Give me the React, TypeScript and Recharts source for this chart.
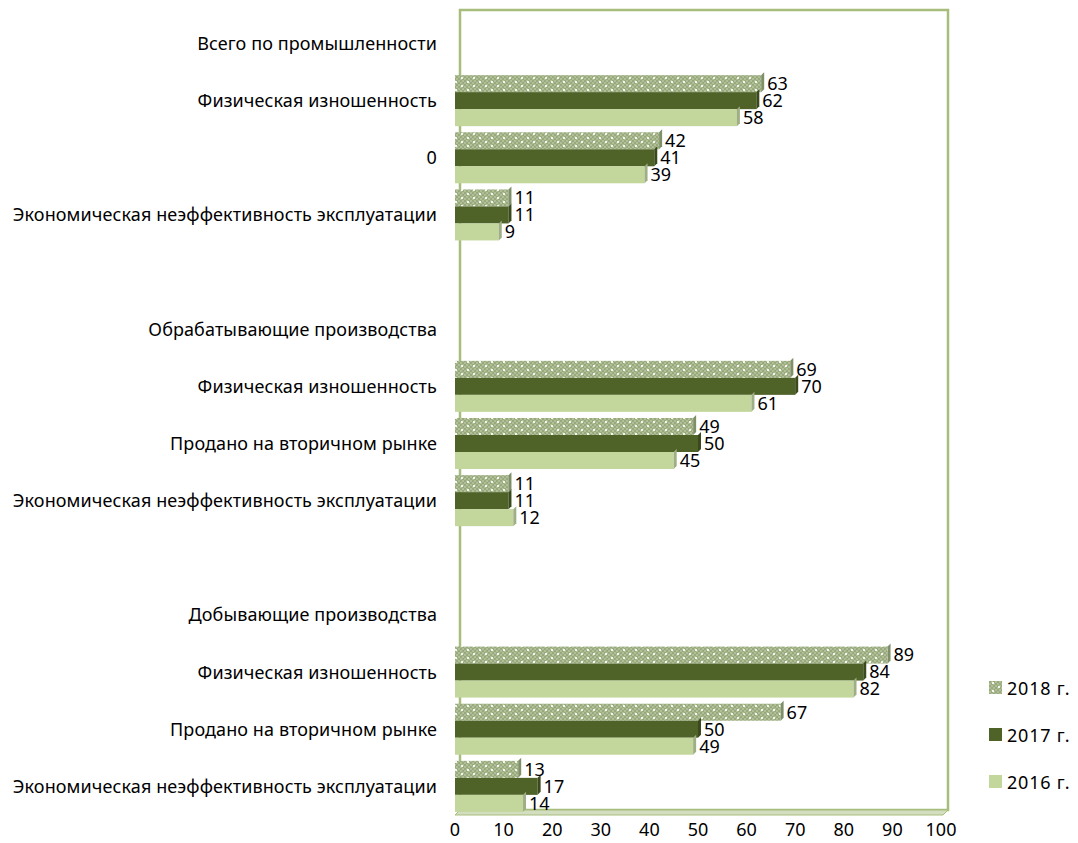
import React from "react";
import {
  BarChart,
  Bar,
  XAxis,
  YAxis,
  LabelList,
  ReferenceArea,
} from "recharts";

const categories = [
  "Всего по промышленности",
  "Физическая изношенность",
  "0",
  "Экономическая неэффективность эксплуатации",
  "",
  "Обрабатывающие производства",
  "Физическая изношенность",
  "Продано на вторичном рынке",
  "Экономическая неэффективность эксплуатации",
  "",
  "Добывающие производства",
  "Физическая изношенность",
  "Продано на вторичном рынке",
  "Экономическая неэффективность эксплуатации",
];

const values2018 = [null, 63, 42, 11, null, null, 69, 49, 11, null, null, 89, 67, 13];
const values2017 = [null, 62, 41, 11, null, null, 70, 50, 11, null, null, 84, 50, 17];
const values2016 = [null, 58, 39, 9, null, null, 61, 45, 12, null, null, 82, 49, 14];

const seriesNames = ["2018 г.", "2017 г.", "2016 г."];
const xTicks = [0, 10, 20, 30, 40, 50, 60, 70, 80, 90, 100];

const FONT = "'Noto Sans', sans-serif";
const DARK = "#4f6228";
const LIGHT = "#c3d69b";
const FRAME = "#a7bd7b";

const data = categories.map((name, i) => ({
  name,
  y2018: values2018[i],
  y2017: values2017[i],
  y2016: values2016[i],
}));

// checkered pattern with white dots, used for 2018
const PatternDefs = ({ id }: { id: string }) => (
  <defs>
    <pattern id={id} width="12" height="8" patternUnits="userSpaceOnUse">
      <rect width="12" height="8" fill="#b0bf98" />
      <rect x="0" y="0" width="2" height="2" fill="#98aa7c" />
      <rect x="4" y="0" width="2" height="2" fill="#98aa7c" />
      <rect x="8" y="0" width="2" height="2" fill="#98aa7c" />
      <rect x="2" y="2" width="2" height="2" fill="#98aa7c" />
      <rect x="6" y="2" width="2" height="2" fill="#98aa7c" />
      <rect x="10" y="2" width="2" height="2" fill="#98aa7c" />
      <rect x="0" y="4" width="2" height="2" fill="#98aa7c" />
      <rect x="4" y="4" width="2" height="2" fill="#98aa7c" />
      <rect x="8" y="4" width="2" height="2" fill="#98aa7c" />
      <rect x="2" y="6" width="2" height="2" fill="#98aa7c" />
      <rect x="6" y="6" width="2" height="2" fill="#98aa7c" />
      <rect x="10" y="6" width="2" height="2" fill="#98aa7c" />
      <rect x="3" y="1" width="2" height="2" fill="#f4f6ee" />
      <rect x="9" y="5" width="2" height="2" fill="#f4f6ee" />
    </pattern>
  </defs>
);

const Bar3D = (props: any) => {
  const { x, y, width, height, fill, side } = props;
  if (!width || width <= 0) return null;
  const d = 3;
  return (
    <g>
      <rect x={x} y={y} width={width} height={height} fill={fill} />
      <polygon
        points={`${x + width},${y} ${x + width + d},${y - d} ${x + width + d},${y + height - d} ${x + width},${y + height}`}
        fill={side}
      />
    </g>
  );
};

const Wall = (props: any) => {
  const { x, y, width, height } = props;
  return (
    <g>
      <rect x={x + 5} y={y - 5} width={width + 2} height={height} fill="none" stroke={FRAME} strokeWidth={2.5} />
      <polygon
        points={`${x},${y + height} ${x + 5},${y + height - 5} ${x + width + 7},${y + height - 5} ${x + width + 2},${y + height}`}
        fill="#d3ddc0"
        stroke={FRAME}
        strokeWidth={1}
      />
    </g>
  );
};

const swatches = [
  <svg width={13} height={13} key="a">
    <PatternDefs id="legpat" />
    <rect width={13} height={13} fill="url(#legpat)" />
  </svg>,
  <svg width={13} height={13} key="b">
    <rect width={13} height={13} fill={DARK} />
  </svg>,
  <svg width={13} height={13} key="c">
    <rect width={13} height={13} fill={LIGHT} />
  </svg>,
];

const labelStyle = { fontSize: 18, fill: "#000", fontFamily: FONT };

export default function App() {
  return (
    <div style={{ position: "relative", width: 1062, height: 835, fontFamily: FONT }}>
      <BarChart
        width={1062}
        height={835}
        data={data}
        layout="vertical"
        margin={{ top: 7, right: 129, left: 0, bottom: 0 }}
        barSize={17}
        barGap={0}
      >
        <PatternDefs id="pat2018" />
        <XAxis
          type="number"
          domain={[0, 100]}
          ticks={xTicks}
          axisLine={false}
          tickLine={false}
          height={28}
          tick={{ fontSize: 18, fill: "#000", fontFamily: FONT }}
        />
        <YAxis
          type="category"
          dataKey="name"
          width={447}
          interval={0}
          axisLine={false}
          tickLine={false}
          tickMargin={12}
          tick={{ fontSize: 18, fill: "#000", fontFamily: FONT, letterSpacing: 0.1 }}
        />
        <ReferenceArea x1={0} x2={100} shape={<Wall />} ifOverflow="visible" />
        <Bar
          dataKey="y2018"
          name={seriesNames[0]}
          fill="url(#pat2018)"
          isAnimationActive={false}
          shape={(p: any) => <Bar3D {...p} side="#7f8f68" />}
        >
          <LabelList dataKey="y2018" position="right" offset={6} style={labelStyle} />
        </Bar>
        <Bar
          dataKey="y2017"
          name={seriesNames[1]}
          fill={DARK}
          isAnimationActive={false}
          shape={(p: any) => <Bar3D {...p} side="#3a4a1c" />}
        >
          <LabelList dataKey="y2017" position="right" offset={6} style={labelStyle} />
        </Bar>
        <Bar
          dataKey="y2016"
          name={seriesNames[2]}
          fill={LIGHT}
          isAnimationActive={false}
          shape={(p: any) => <Bar3D {...p} side="#9fae85" />}
        >
          <LabelList dataKey="y2016" position="right" offset={6} style={labelStyle} />
        </Bar>
      </BarChart>
      <div style={{ position: "absolute", left: 981, top: 656, width: 90 }}>
        {seriesNames.map((s, i) => (
          <div
            key={s}
            style={{
              display: "flex",
              alignItems: "center",
              height: 47,
              fontSize: 18,
              letterSpacing: 0.8,
              color: "#000",
              whiteSpace: "nowrap",
            }}
          >
            {swatches[i]}
            <span style={{ marginLeft: 5 }}>{s}</span>
          </div>
        ))}
      </div>
    </div>
  );
}
